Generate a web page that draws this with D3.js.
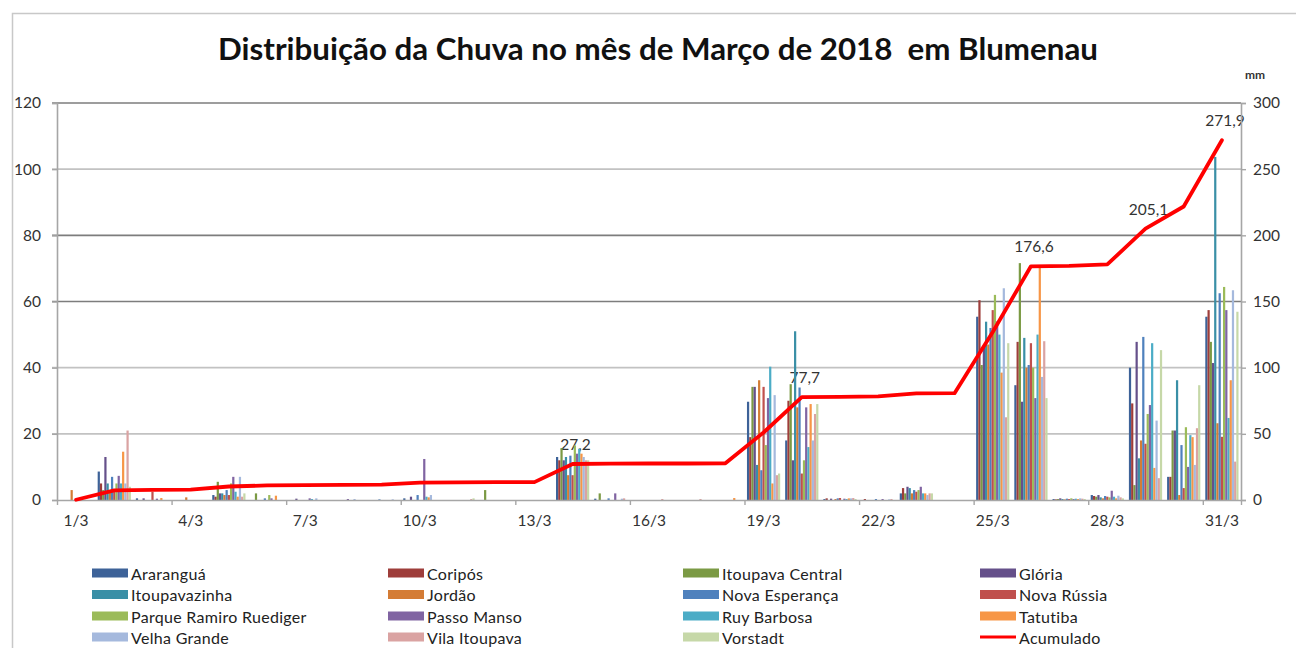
<!DOCTYPE html>
<html>
<head>
<meta charset="utf-8">
<script src="https://cdn.jsdelivr.net/npm/d3@7"></script>
<style>
  body { margin: 0; background: #fff; }
  text { font-family: Lato, "Noto Sans", sans-serif; }
</style>
</head>
<body>
<div class="chart-container"></div>
<script>
// categorias (dias de março)
const days = ['1/3','2/3','3/3','4/3','5/3','6/3','7/3','8/3','9/3','10/3','11/3','12/3','13/3','14/3','15/3','16/3',
  '17/3','18/3','19/3','20/3','21/3','22/3','23/3','24/3','25/3','26/3','27/3','28/3','29/3','30/3','31/3'];

// chuva diária por estação (mm)
const ararangua     = [0,8.6,0.5,0,1.5,0,0,0,0,0.5,0,0,0,13,0.4,0,0,0,29.7,18,0.3,0,2,0,55.4,34.7,0.3,1.5,40,7,55.4];
const coripos       = [0,5,0,0,1,0,0,0,0,0,0,0,0,12,0,0,0,0,19,30,0.5,0.3,3.6,0,60.4,47.8,0.2,1.2,29.2,7,57.4];
const itoupavaCentral = [0,3,0,0,5.5,2,0,0,0,0,0,3,0,15.7,2,0,0,0,34.2,35,0,0,2,0,40.8,71.6,0.3,1,4.5,21,47.8];
const gloria        = [0,13,0.5,0,2,0,0.4,0,0,1,0,0,0,12,0,0,0,0,34.2,12,0.4,0,4,0,46,29.7,0.5,1.5,47.8,21,41.4];
const itoupavazinha = [0,5,0,0,2,0,0,0,0,0,0,0,0,13,0,0,0,0,10.6,51,0,0,3.6,0,53.9,49,0.3,0.8,12.6,36.2,103.7];
const jordao        = [3,3,0,0.8,1.5,0,0,0,0,0,0,0,0,7.5,0,0,0,0,36.2,28,0.3,0,2,0,47,40,0.2,0.5,18,1.5,23.2];
const novaEsperanca = [0,7,0,0,3,0.5,0,0,0.2,1.5,0,0,0,13.4,0.5,0,0,0,9,34,0.5,0.3,3,0,52,40.8,0.4,1.2,49.3,16.6,62.5];
const novaRussia    = [0,3,2.5,0,1.5,0,0,0,0,0,0,0,0,7.5,0,0,0,0,34.2,8,0.6,0,2.5,0,57.4,47.4,0.3,1,17,3.6,19.1];
const parqueRamiro  = [0,5,0,0,5,1.5,0,0,0,0,0,0,0,16.5,0,0,0,0,16.6,12,0,0,3,0,62,40,0.5,0.8,26,22,64.4];
const passoManso    = [0,7.3,0.4,0,7,0.5,0.5,0.3,0,12.4,0,0,0,14,2,0,0,0,30.8,28,0.4,0.3,4,0,54,30.8,0.3,2.8,28.7,10,57.4];
const ruyBarbosa    = [0,5,0,0,2.5,0,0.3,0,0,1,0,0,0,15.5,0,0,0,0,40.3,16,0.3,0,2,0,50,50,0.4,1,47.4,19.6,24.8];
const tatutiba      = [0,14.6,0.6,0,1,1.3,0,0,0,0.8,0,0,0,14,0,0,0,0.6,5,29,0.5,0,2,0,38.5,70.5,0.3,0.5,9.7,19,36.2];
const velhaGrande   = [0,5,0,0,7,0,0.5,0.3,0.2,1.5,0,0,0,13,0.4,0,0,0,31.7,18,0.5,0.2,1.5,0,64,37.2,0.5,1.3,24,10.6,63.4];
const vilaItoupava  = [0,21,0,0,1,0,0,0,0,0,0.3,0,0,12,0.5,0.3,0.3,0,7.5,26,0.6,0.3,2,0,25,48,0.4,0.8,6.6,21.7,11.6];
const vorstadt      = [0,4,0,0,2,0,0,0,0,0,0.5,0,0,12,0,0,0,0,8,29,0.3,0,2,0,47.4,30.8,0.3,0.5,45.3,34.7,56.9];

// acumulado (eixo secundário)
const acumulado = [0.2,7.3,7.6,7.8,10.2,11,11.3,11.5,11.6,13.2,13.3,13.5,13.5,27.2,27.5,27.6,27.6,27.7,51,77.7,
  78,78.3,80.6,80.7,127,176.6,176.9,178,205.1,221.8,271.9];
// dias com rótulo de valor
const labelDays = ['14/3','20/3','26/3','29/3','31/3'];

const stationNames = ['Araranguá','Coripós','Itoupava Central','Glória','Itoupavazinha','Jordão','Nova Esperança',
  'Nova Rússia','Parque Ramiro Ruediger','Passo Manso','Ruy Barbosa','Tatutiba','Velha Grande','Vila Itoupava','Vorstadt'];
const stationValues = [ararangua,coripos,itoupavaCentral,gloria,itoupavazinha,jordao,novaEsperanca,novaRussia,
  parqueRamiro,passoManso,ruyBarbosa,tatutiba,velhaGrande,vilaItoupava,vorstadt];
const stationColors = ['#3d6298','#9e3d3a','#7b9a44','#65508a','#3a8fa6','#d47c35','#4f81bd','#c0504d',
  '#9bbb59','#8064a2','#4bacc6','#f79646','#a5b9dd','#daa3a2','#c6d8a8'];

const leftTicks = [0,20,40,60,80,100,120];
const rightTicks = [0,50,100,150,200,250,300];

const W = 1296, H = 648;
const plot = {left:57, right:1241, top:103, bottom:500};

const svg = d3.select('.chart-container').append('svg')
  .attr('width', W).attr('height', H);
svg.append('rect').attr('width', W).attr('height', H).attr('fill', '#fff');

// moldura externa
svg.append('path').attr('d', `M12.5,${H} V13.5 H${W}`)
  .attr('fill','none').attr('stroke','#c8c8c8').attr('stroke-width',1.5);

// escalas
const x0 = d3.scaleBand().domain(days).range([plot.left, plot.right])
  .paddingInner(0.13).paddingOuter(0.065);
const x1 = d3.scaleBand().domain(stationNames).range([0, x0.bandwidth()]);
const xb = d3.scaleLinear().domain([0, days.length]).range([plot.left, plot.right]);
const yL = d3.scaleLinear().domain([0,120]).range([plot.bottom, plot.top]);
const yR = d3.scaleLinear().domain([0,300]).range([plot.bottom, plot.top]);

// linhas de grade
const darkGrid = new Set([120,80,60]);
svg.append('g').selectAll('line').data(leftTicks.filter(d => d > 0)).join('line')
  .attr('x1', plot.left - 5).attr('x2', plot.right)
  .attr('y1', d => yL(d)).attr('y2', d => yL(d))
  .attr('stroke', d => darkGrid.has(d) ? '#7d7d7d' : '#c2c2c2')
  .attr('stroke-width', 1.6);

// rótulos de valor (desenhados antes das barras, como no original)
const cx = d => x0(d) + x0.bandwidth() / 2;
const fmt = d => d3.format('.1f')(d).replace('.', ',');
svg.append('g').selectAll('text').data(labelDays).join('text')
  .attr('x', d => cx(d) + 3)
  .attr('y', d => yR(acumulado[days.indexOf(d)]) - 14)
  .attr('text-anchor','middle')
  .style('font-size','15.5px').attr('fill','#333')
  .text(d => fmt(acumulado[days.indexOf(d)]));

// barras
const groups = svg.append('g').selectAll('g').data(stationNames).join('g')
  .attr('fill', (d,i) => stationColors[i]);
groups.selectAll('rect')
  .data((name,i) => days.map((day,j) => ({name, day, value: stationValues[i][j]})).filter(d => d.value > 0))
  .join('rect')
  .attr('x', d => x0(d.day) + x1(d.name))
  .attr('width', x1.bandwidth())
  .attr('y', d => yL(d.value))
  .attr('height', d => yL(0) - yL(d.value));

// eixo esquerdo
const axisColor = '#a6a6a6';
const yAxisL = svg.append('g').attr('transform', `translate(${plot.left},0)`)
  .call(d3.axisLeft(yL).tickValues(leftTicks).tickSize(5).tickPadding(11));
// eixo direito
const yAxisR = svg.append('g').attr('transform', `translate(${plot.right},0)`)
  .call(d3.axisRight(yR).tickValues(rightTicks).tickSize(5).tickPadding(7));
// eixo x: marcas a cada 3 categorias
const tickIdx = [0,3,6,9,12,15,18,21,24,27,30,31];
const xAxisT = svg.append('g').attr('transform', `translate(0,${plot.bottom})`)
  .call(d3.axisBottom(xb).tickValues(tickIdx).tickFormat('').tickSize(5).tickSizeOuter(0));
const xAxisL = svg.append('g').attr('transform', `translate(0,${plot.bottom})`)
  .call(d3.axisBottom(x0).tickValues(days.filter((d,i) => i % 3 === 0)).tickSize(0).tickPadding(15));
xAxisL.select('.domain').remove();

[yAxisL, yAxisR, xAxisT].forEach(g => {
  g.select('.domain').attr('stroke', axisColor).attr('stroke-width', 1.6);
  g.selectAll('.tick line').attr('stroke', axisColor).attr('stroke-width', 1.4);
});
[yAxisL, yAxisR, xAxisL].forEach(g => {
  g.selectAll('.tick text').style('font-size','15.5px').attr('fill','#333')
    .style('font-family','Lato, "Noto Sans", sans-serif');
});

// linha acumulada
const lineGen = d3.line().x((d,i) => cx(days[i])).y(d => yR(d));
svg.append('path').datum(acumulado)
  .attr('d', lineGen)
  .attr('fill','none').attr('stroke','#ff0000').attr('stroke-width',3.8)
  .attr('stroke-linejoin','round').attr('stroke-linecap','round');

// unidade
svg.append('text').attr('x', 1245).attr('y', 79)
  .style('font-size','12px').style('font-weight','bold').attr('fill','#333').text('mm');

// título
const title = svg.append('text').attr('x', 658).attr('y', 60).attr('text-anchor','middle')
  .style('font-size','26px').style('font-weight','bold').attr('fill','#111')
  .text('Distribuição da Chuva no mês de Março de 2018  em Blumenau')
  .attr('xml:space','preserve').style('white-space','pre');
const tw = title.node().getComputedTextLength();
title.style('font-size', (26 * 880 / tw).toFixed(2) + 'px');

// legenda
const legendItems = stationNames.map((n,i) => ({name:n, color:stationColors[i], type:'bar'}))
  .concat([{name:'Acumulado', color:'#ff0000', type:'line'}]);
const colX = [92, 388, 683, 980];
const rowY = [573, 594.5, 616, 637];
const leg = svg.append('g').selectAll('g').data(legendItems).join('g')
  .attr('transform', (d,i) => `translate(${colX[i % 4]},${rowY[Math.floor(i / 4)]})`);
leg.filter(d => d.type === 'bar').append('rect')
  .attr('x',0).attr('y',-4.5).attr('width',36).attr('height',9).attr('fill', d => d.color);
leg.filter(d => d.type === 'line').append('line')
  .attr('x1',0).attr('x2',36).attr('y1',0).attr('y2',0)
  .attr('stroke', d => d.color).attr('stroke-width',3);
leg.append('text').attr('x',39).attr('y',0).attr('dominant-baseline','central')
  .style('font-size','16px').style('letter-spacing','0.3px').attr('fill','#222').text(d => d.name);
</script>
</body>
</html>
